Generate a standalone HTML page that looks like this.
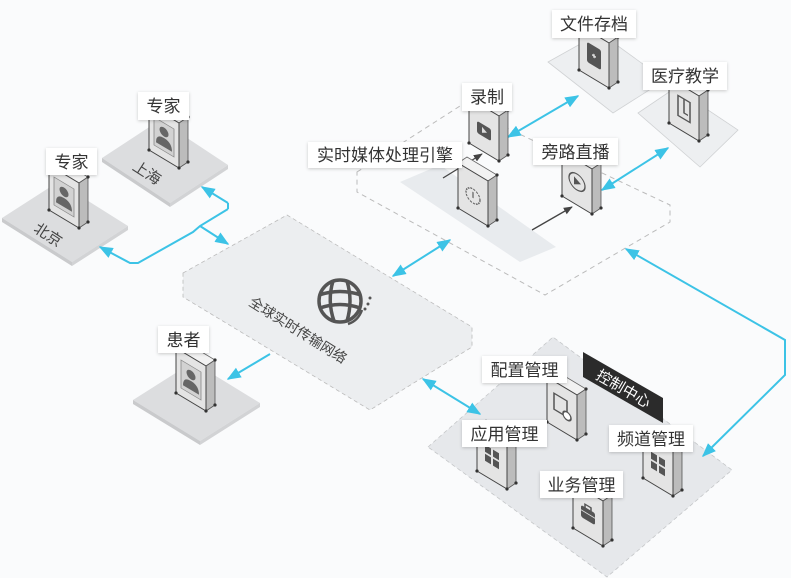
<!DOCTYPE html>
<html><head><meta charset="utf-8"><style>
html,body{margin:0;padding:0;background:#fafbfc;}
svg{display:block;font-family:"Liberation Sans","Noto Sans CJK SC",sans-serif;}
.lb{fill:#fff;filter:url(#sh);}
.lt{font-size:17px;fill:#333;text-anchor:middle;}
.cy{stroke:#3cc3e6;stroke-width:2;fill:none;}
</style></head><body>
<svg width="791" height="578" viewBox="0 0 791 578" xmlns="http://www.w3.org/2000/svg">
<defs>
<filter id="sh" x="-20%" y="-30%" width="140%" height="170%"><feDropShadow dx="0" dy="1" stdDeviation="1.5" flood-color="#000" flood-opacity="0.2"/></filter>
<marker id="ac" viewBox="0 0 10 10" refX="9" refY="5" markerWidth="7" markerHeight="7" orient="auto-start-reverse"><path d="M0,1 L10,5 L0,9 z" fill="#3cc3e6"/></marker>
<marker id="ak" viewBox="0 0 10 10" refX="9" refY="5" markerWidth="7" markerHeight="7" orient="auto-start-reverse"><path d="M0,1 L10,5 L0,9 z" fill="#444"/></marker>
<g id="box">
<polygon points="0,0 9,-6 39,12 30,18" fill="#f2f2f2" stroke="#666" stroke-width="0.8"/>
<polygon points="30,18 39,12 39,57 30,63" fill="#bcbcbc" stroke="#555" stroke-width="0.8"/>
<polygon points="0,0 30,18 30,63 0,45" fill="#e4e4e4" stroke="#444" stroke-width="1"/>
<circle cx="0" cy="45" r="1.6" fill="#333"/><circle cx="30" cy="63" r="1.6" fill="#333"/><circle cx="39" cy="57" r="1.6" fill="#333"/><circle cx="39" cy="12" r="1.6" fill="#333"/>
</g>
<g id="person" transform="matrix(1,0.6,0,1,0,0)"><rect x="5" y="9" width="20" height="28" fill="#d2d2d2" stroke="#888" stroke-width="0.8"/><circle cx="15" cy="18" r="4.5" fill="#666"/><path d="M7,33 Q7,24 15,24 Q23,24 23,33 z" fill="#666"/></g>
<g id="grid" transform="matrix(1,0.6,0,1,0,0)"><rect x="8" y="14" width="6" height="7" fill="#555"/><rect x="16" y="14" width="6" height="7" fill="#555"/><rect x="8" y="23" width="6" height="7" fill="#555"/><rect x="16" y="23" width="6" height="7" fill="#555"/></g>
</defs>

<!-- platforms -->
<polygon points="2,218 58,182 128,226 72,262" fill="#dcdddf"/>
<polygon points="2,218 72,262 72,266 2,222" fill="#c9cacc"/><polygon points="72,262 128,226 128,230 72,266" fill="#d2d3d5"/>
<polygon points="102,158 160,120 228,165 170,203" fill="#dcdddf"/>
<polygon points="102,158 170,203 170,207 102,162" fill="#c9cacc"/><polygon points="170,203 228,165 228,169 170,207" fill="#d2d3d5"/>
<polygon points="133,400 193,362 260,403 200,441" fill="#dcdddf"/>
<polygon points="133,400 200,441 200,445 133,404" fill="#c9cacc"/><polygon points="200,441 260,403 260,407 200,445" fill="#d2d3d5"/>
<polygon points="548,62 600,33 665,80 613,113" fill="#edeff1" stroke="#d0d2d4" stroke-width="0.8"/>
<polygon points="638,113 675,88 738,130 700,167" fill="#edeff1" stroke="#d0d2d4" stroke-width="0.8"/>
<!-- network -->
<polygon points="183,273 287,215 472,327 472,347 370,410 183,297" fill="#eceef0" stroke="#bbb" stroke-width="0.8" stroke-dasharray="4,3"/>
<!-- engine region -->
<polygon points="357,172 460,106 670,205 670,222 545,295 357,192" fill="none" stroke="#bbb" stroke-width="1" stroke-dasharray="5,4"/>
<polygon points="400,182 440,165 556,247 520,262" fill="#e8ebee"/>
<!-- control region -->
<polygon points="428,447 553,337 732,470 607,577" fill="#e6e8eb" stroke="#c4c6c8" stroke-width="0.8" stroke-dasharray="4,3"/>

<!-- platform texts -->
<text x="48" y="240" font-size="15" fill="#444" text-anchor="middle" transform="rotate(33 48 235)">北京</text>
<text x="147" y="178" font-size="15" fill="#444" text-anchor="middle" transform="rotate(33 147 173)">上海</text>
<text x="298" y="335" font-size="14" fill="#444" text-anchor="middle" transform="rotate(32 298 330)">全球实时传输网络</text>
<g transform="translate(340,301)" stroke="#555" stroke-width="3.5" fill="none">
<circle r="21"/><path d="M-21,-6 Q0,-13 21,-6 M-20,7 Q0,0 20,7 M-7,-20 Q-13,0 -6,20 M7,-20 Q13,0 7,20"/>
<path d="M22,9 Q18,20 8,23" stroke-width="2.5"/></g>
<circle cx="370" cy="298" r="1.5" fill="#555"/><circle cx="368" cy="304" r="1.5" fill="#555"/><circle cx="365" cy="309" r="1.5" fill="#555"/>

<!-- connectors -->
<path class="cy" d="M228,209 L200,226 L193,232 L138,263 L130,263 L100,247" marker-end="url(#ac)"/>
<path class="cy" d="M228,203 L202,187" marker-end="url(#ac)"/>
<path class="cy" d="M228,203 L228,209"/>
<path class="cy" d="M200,226 L228,244" marker-end="url(#ac)"/>
<path class="cy" d="M270,354 L228,379" marker-end="url(#ac)"/>
<path class="cy" d="M393,276 L450,240" marker-start="url(#ac)" marker-end="url(#ac)"/>
<path class="cy" d="M508,137 L578,96" marker-start="url(#ac)" marker-end="url(#ac)"/>
<path class="cy" d="M602,190 L668,148" marker-start="url(#ac)" marker-end="url(#ac)"/>
<path class="cy" d="M423,379 L480,414" marker-start="url(#ac)" marker-end="url(#ac)"/>
<path class="cy" d="M626,249 L785,340 L785,375 L703,456" marker-start="url(#ac)" marker-end="url(#ac)"/>
<path d="M443,178 L482,154" stroke="#444" stroke-width="1.3" fill="none" marker-end="url(#ak)"/>
<path d="M532,230 L572,207" stroke="#444" stroke-width="1.3" fill="none" marker-end="url(#ak)"/>

<!-- boxes -->
<g transform="translate(49,165)"><use href="#box"/><use href="#person"/></g>
<g transform="translate(149,105)"><use href="#box"/><use href="#person"/></g>
<g transform="translate(176,348)"><use href="#box"/><use href="#person"/></g>
<g transform="translate(469,98)"><use href="#box"/><g transform="matrix(1,0.6,0,1,0,0)"><rect x="8" y="18" width="14" height="12" rx="2" fill="#555"/><path d="M13,21 L18,24 L13,27z" fill="#ddd"/></g></g>
<g transform="translate(458,163)"><use href="#box"/><g transform="matrix(1,0.6,0,1,0,0)"><circle cx="15" cy="24" r="7" fill="none" stroke="#666" stroke-width="1.3" stroke-dasharray="2,1"/><line x1="15" y1="20" x2="15" y2="26" stroke="#666" stroke-width="1.3"/></g></g>
<g transform="translate(562,151)"><use href="#box"/><g transform="matrix(1,0.6,0,1,0,0)"><circle cx="15" cy="22" r="8" fill="none" stroke="#555" stroke-width="1.3"/><path d="M12,18 L19,22 L12,26z" fill="#555"/></g></g>
<g transform="translate(579,25)"><use href="#box"/><g transform="matrix(1,0.6,0,1,0,0)"><rect x="8" y="12" width="14" height="20" rx="2" fill="#555"/><path d="M13,22 h4 M15,20 v4" stroke="#ddd" stroke-width="1.5"/></g></g>
<g transform="translate(669,78)"><use href="#box"/><g transform="matrix(1,0.6,0,1,0,0)"><rect x="9" y="12" width="12" height="20" fill="none" stroke="#555" stroke-width="1.5"/><path d="M15,12 v14 h4" stroke="#555" stroke-width="1.5" fill="none"/></g></g>
<g transform="translate(547,377)"><use href="#box"/><g transform="matrix(1,0.6,0,1,0,0)"><rect x="7" y="12" width="13" height="16" fill="none" stroke="#555" stroke-width="1.5"/><circle cx="20" cy="27" r="4" fill="#fff" stroke="#555" stroke-width="1.5"/></g></g>
<g transform="translate(477,426)"><use href="#box"/><use href="#grid"/></g>
<g transform="translate(643,433)"><use href="#box"/><use href="#grid"/></g>
<g transform="translate(573,483)"><use href="#box"/><g transform="matrix(1,0.6,0,1,0,0)"><rect x="8" y="17" width="14" height="12" rx="2" fill="#555"/><rect x="12" y="14" width="6" height="4" fill="none" stroke="#555" stroke-width="1.5"/><line x1="8" y1="22" x2="22" y2="22" stroke="#ddd"/></g></g>

<!-- control center tag -->
<polygon points="583,352 663,398 663,423 583,377" fill="#2b2b2b"/>
<text x="624" y="394" font-size="15" fill="#fff" text-anchor="middle" transform="rotate(30 624 388)">控制中心</text>

<!-- labels -->
<rect class="lb" x="46" y="148" width="51" height="27"/><text class="lt" x="71.5" y="168">专家</text>
<rect class="lb" x="138" y="92" width="51" height="28"/><text class="lt" x="163.5" y="112">专家</text>
<rect class="lb" x="158" y="326" width="51" height="27"/><text class="lt" x="183.5" y="346">患者</text>
<rect class="lb" x="308" y="142" width="154" height="26"/><text class="lt" x="385" y="161">实时媒体处理引擎</text>
<rect class="lb" x="462" y="83" width="50" height="28"/><text class="lt" x="487" y="103">录制</text>
<rect class="lb" x="533" y="138" width="85" height="27"/><text class="lt" x="575.5" y="158">旁路直播</text>
<rect class="lb" x="552" y="10" width="84" height="28"/><text class="lt" x="594" y="30">文件存档</text>
<rect class="lb" x="643" y="62" width="84" height="28"/><text class="lt" x="685" y="82">医疗教学</text>
<rect class="lb" x="482" y="356" width="85" height="27"/><text class="lt" x="524.5" y="376">配置管理</text>
<rect class="lb" x="462" y="420" width="85" height="27"/><text class="lt" x="504.5" y="440">应用管理</text>
<rect class="lb" x="609" y="425" width="84" height="27"/><text class="lt" x="651" y="445">频道管理</text>
<rect class="lb" x="540" y="471" width="83" height="27"/><text class="lt" x="581.5" y="491">业务管理</text>
</svg>
</body></html>
